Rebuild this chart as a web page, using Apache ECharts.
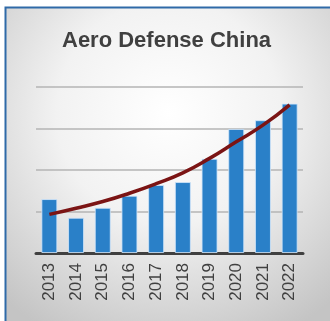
<!DOCTYPE html>
<html>
<head>
<meta charset="utf-8">
<script src="https://cdn.jsdelivr.net/npm/echarts@6/dist/echarts.min.js"></script>
<style>
  html, body { margin: 0; padding: 0; background: #fff; }
  #main { width: 330px; height: 321px; }
</style>
</head>
<body>
<div id="main"></div>
<script>
// data
var years = ['2013', '2014', '2015', '2016', '2017', '2018', '2019', '2020', '2021', '2022'];
var values = [1.30, 0.85, 1.09, 1.38, 1.64, 1.71, 2.27, 2.99, 3.20, 3.60];
var trend = [0.93, 1.08, 1.24, 1.44, 1.67, 1.93, 2.28, 2.68, 3.08, 3.57];

var chart = echarts.init(document.getElementById('main'));

chart.setOption({
  animation: false,
  textStyle: { fontFamily: 'Liberation Sans, Arial, sans-serif' },
  graphic: [
    {
      type: 'rect', z: -10, silent: true,
      shape: { x: 5.5, y: 7.5, width: 340, height: 330 },
      style: {
        fill: {
          type: 'radial', x: 0.48, y: 0.32, r: 0.75,
          colorStops: [
            { offset: 0, color: '#ffffff' },
            { offset: 0.45, color: '#f2f2f2' },
            { offset: 1, color: '#c4c4c4' }
          ]
        },
        stroke: '#2f6aa8', lineWidth: 2
      }
    }
  ],
  title: {
    text: 'Aero Defense China',
    left: 62,
    top: 30,
    padding: 0,
    textStyle: { fontSize: 22, fontWeight: 'bold', color: '#404040' }
  },
  grid: { left: 36, right: 27, top: 87, bottom: 68 },
  xAxis: {
    type: 'category',
    data: years,
    axisLine: { lineStyle: { color: '#404040', width: 3 } },
    axisTick: { show: false },
    axisLabel: { rotate: 90, fontSize: 17, color: '#404040', margin: 10 }
  },
  yAxis: {
    type: 'value',
    min: 0, max: 4, interval: 1,
    axisLabel: { show: false },
    axisLine: { show: false },
    axisTick: { show: false },
    splitLine: { lineStyle: { color: '#b4b4b4', width: 1.5 } }
  },
  series: [
    {
      type: 'bar',
      data: values,
      barWidth: 16,
      itemStyle: { color: '#2a80c8', borderColor: 'rgba(210,230,250,0.8)', borderWidth: 1 }
    },
    {
      type: 'line',
      data: trend,
      smooth: true,
      symbol: 'none',
      lineStyle: { color: '#7b1414', width: 3.5 },
      z: 5
    }
  ]
});
</script>
</body>
</html>
